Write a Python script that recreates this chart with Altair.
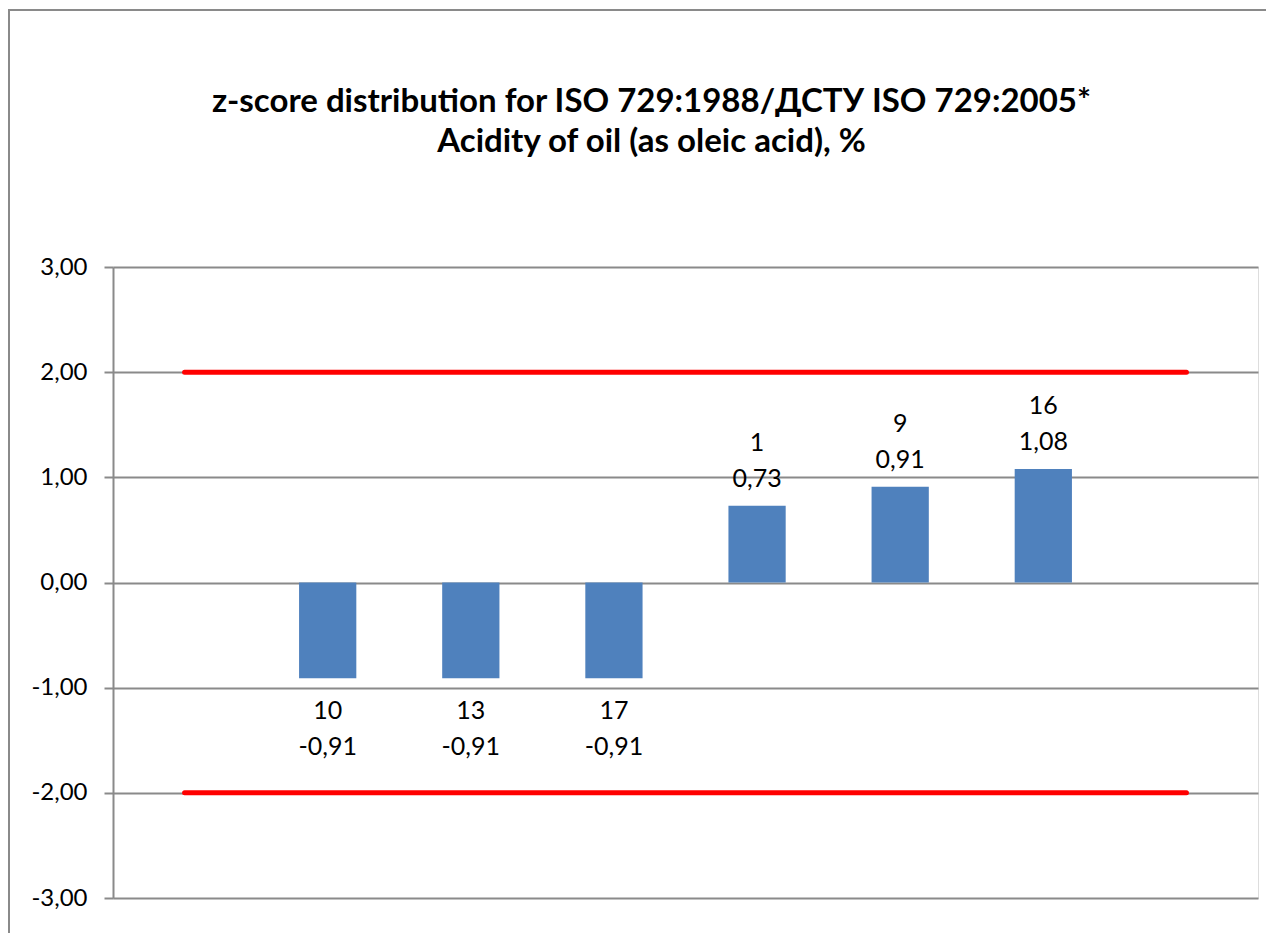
import altair as alt
import pandas as pd

# Slots along the x axis: the first and last slots only carry the limit lines
slot = [1, 2, 3, 4, 5, 6, 7, 8]
lab_code = [None, "10", "13", "17", "1", "9", "16", None]
z_score = [None, -0.91, -0.91, -0.91, 0.73, 0.91, 1.08, None]
upper_limit = [2.0, 2.0, 2.0, 2.0, 2.0, 2.0, 2.0, 2.0]
lower_limit = [-2.0, -2.0, -2.0, -2.0, -2.0, -2.0, -2.0, -2.0]
y_ticks = [-3, -2, -1, 0, 1, 2, 3]

title_lines = [
    "z-score distribution for ISO 729:1988/ДСТУ ISO 729:2005*",
    "Acidity of oil (as oleic acid), %",
]

FONT = "Lato"
GRAY = "#8a8a8a"
W, H = 1145, 631

# decimal comma and a plain hyphen for negatives
FMT = "replace(replace(format({v}, '.2f'), '.', ','), '\u2212', '-')"

bars_df = pd.DataFrame({"slot": slot, "lab": lab_code, "z": z_score}).dropna()
limits_df = pd.DataFrame(
    {
        "slot": slot * 2,
        "value": upper_limit + lower_limit,
        "limit": ["upper"] * len(slot) + ["lower"] * len(slot),
    }
)

x_enc = alt.X(
    "slot:O",
    axis=None,
    scale=alt.Scale(domain=slot, paddingInner=0, paddingOuter=0),
)
y_scale = alt.Scale(domain=[-3, 3], nice=False, zero=False)
y_axis = alt.Axis(
    values=y_ticks,
    title=None,
    labelExpr=FMT.format(v="datum.value"),
    labelFont=FONT,
    labelFontSize=24,
    labelColor="#000000",
    labelPadding=17,
    tickSize=9,
    tickColor=GRAY,
    tickWidth=2,
    domainColor=GRAY,
    domainWidth=2,
    grid=True,
    gridColor=GRAY,
    gridWidth=2,
)

base = alt.Chart(bars_df).transform_calculate(zlabel=FMT.format(v="datum.z"))

bars = base.mark_bar(
    color="#4F81BD", width=alt.RelativeBandSize(0.4)
).encode(x=x_enc, y=alt.Y("z:Q", scale=y_scale, axis=y_axis))

limits = (
    alt.Chart(limits_df)
    .mark_line(color="#FF0000", strokeWidth=5, strokeCap="round")
    .encode(x=x_enc, y=alt.Y("value:Q", scale=y_scale), detail="limit:N")
)

txt = dict(font=FONT, fontSize=25, color="#000000", align="center", baseline="alphabetic")
pos = base.transform_filter("datum.z > 0")
neg = base.transform_filter("datum.z < 0")

pos_value = pos.mark_text(dy=-19, **txt).encode(x=x_enc, y=alt.Y("z:Q", scale=y_scale), text="zlabel:N")
pos_lab = pos.mark_text(dy=-55, **txt).encode(x=x_enc, y=alt.Y("z:Q", scale=y_scale), text="lab:N")
neg_lab = neg.mark_text(dy=41, **txt).encode(x=x_enc, y=alt.Y("z:Q", scale=y_scale), text="lab:N")
neg_value = neg.mark_text(dy=77, **txt).encode(x=x_enc, y=alt.Y("z:Q", scale=y_scale), text="zlabel:N")

# Outer chart frame
frame = (
    alt.Chart(pd.DataFrame({"k": [0]}))
    .mark_rect(fill=None, stroke=GRAY, strokeWidth=2, clip=False)
    .encode(
        x=alt.value(-104),
        x2=alt.value(W + 40),
        y=alt.value(-257),
        y2=alt.value(H + 60),
    )
)

chart = (
    alt.layer(frame, limits, bars, pos_value, pos_lab, neg_lab, neg_value)
    .properties(
        width=W,
        height=H,
        padding={"left": 113, "top": 267, "right": 8, "bottom": 35},
        autosize=alt.AutoSizeParams(type="none"),
        title=alt.TitleParams(
            text=title_lines,
            font=FONT,
            fontSize=33,
            fontWeight="bold",
            color="#000000",
            anchor="middle",
            dx=-34,
            offset=-150,
            lineHeight=40,
        ),
    )
    .configure_view(stroke=None)
    .configure(background="#ffffff")
)

chart.save("out.html", embed_options={"renderer": "svg", "actions": False})
